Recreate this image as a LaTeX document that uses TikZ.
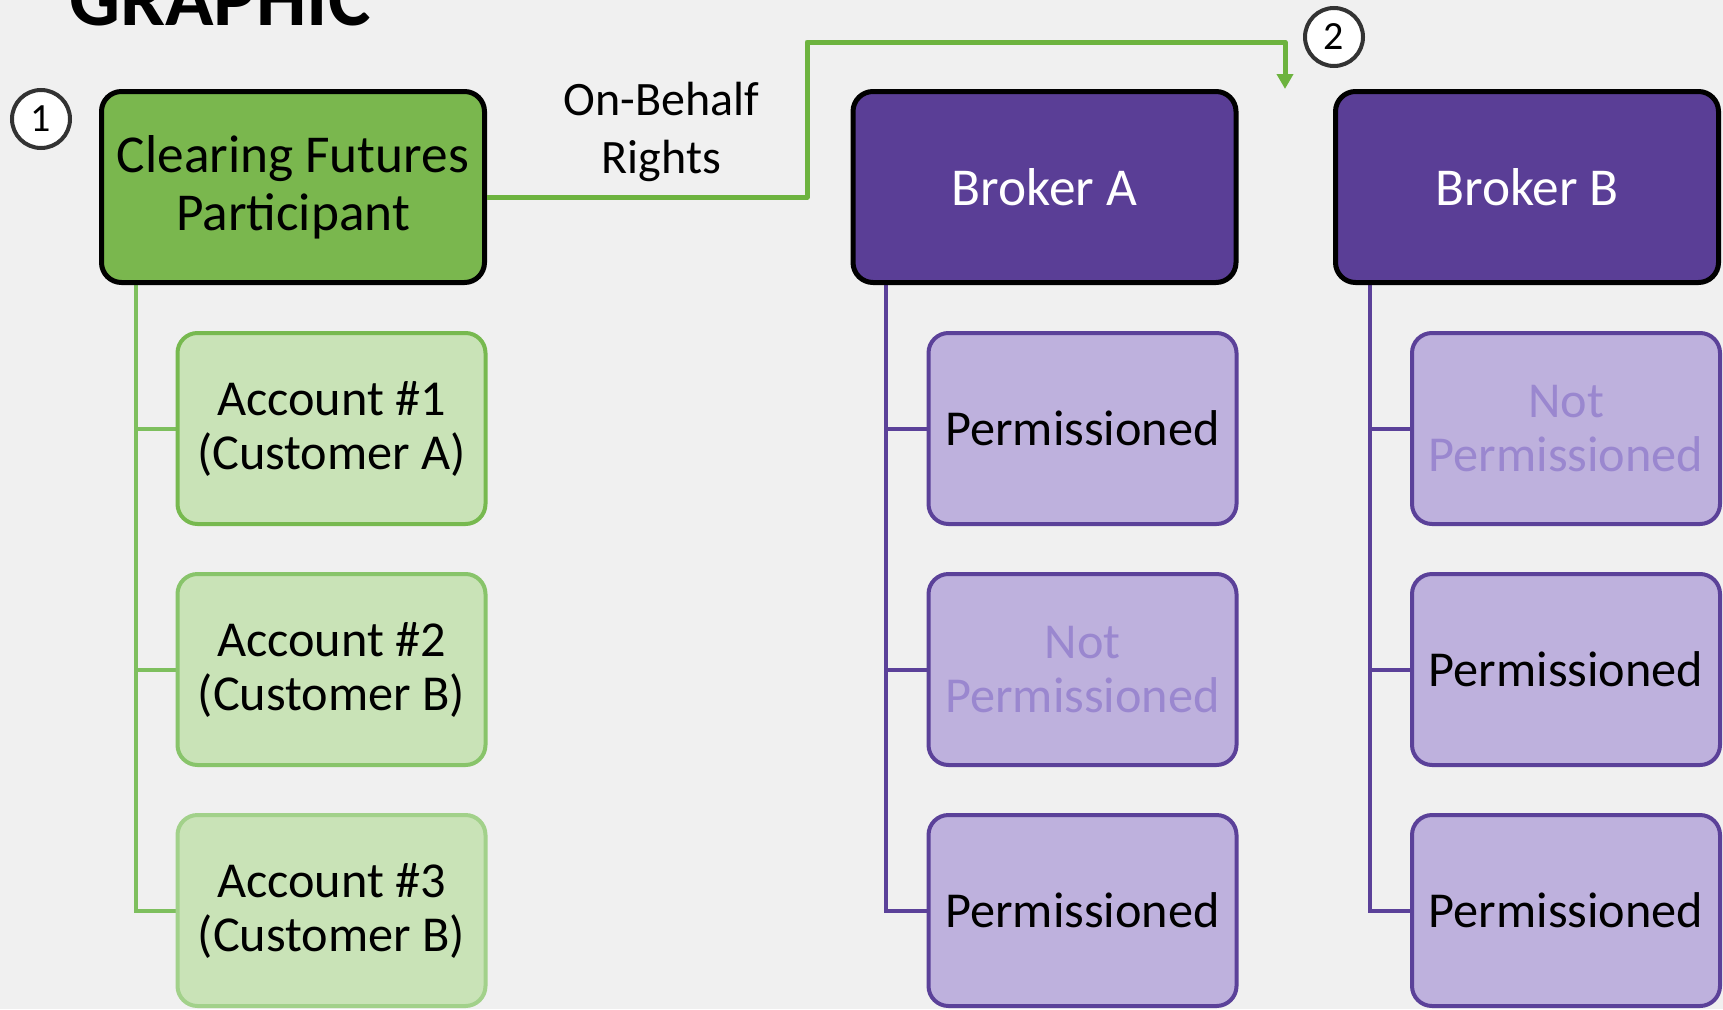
\documentclass[tikz,border=0pt]{standalone}
\usepackage{fontspec}
\setmainfont{Carlito}
\usetikzlibrary{arrows.meta,calc}
\definecolor{bgc}{HTML}{F0F0F0}
\definecolor{gdark}{HTML}{7AB74E}
\definecolor{glight}{HTML}{C9E3B7}
\definecolor{gline}{HTML}{6DB33F}
\definecolor{gconnc}{HTML}{7EBF5E}
\definecolor{gbA}{HTML}{77B94F}
\definecolor{gbB}{HTML}{88C46A}
\definecolor{gbC}{HTML}{A2D18A}
\definecolor{pdark}{HTML}{5A3E96}
\definecolor{plight}{HTML}{BEB1DD}
\definecolor{pborder}{HTML}{5B4199}
\definecolor{npc}{HTML}{9A87CF}
\definecolor{circb}{HTML}{333333}
\pgfdeclarelayer{back}
\pgfdeclarelayer{conn}
\pgfsetlayers{back,conn,main}
\tikzset{
  topbox/.style={draw=black, line width=5pt, rounded corners=20pt, minimum width=383pt,
    minimum height=191pt, inner sep=0pt, align=center, font=\fontsize{53.3}{58}\selectfont},
  cfpbox/.style={topbox, fill=gdark, text=black},
  brokerbox/.style={topbox, fill=pdark, text=white},
  childbox/.style={line width=4pt, rounded corners=20pt, minimum width=308pt,
    minimum height=191pt, inner sep=0pt, align=center, font=\fontsize{50.3}{54}\selectfont},
  accbox/.style={childbox, fill=glight, text=black},
  permbox/.style={childbox, fill=plight, draw=pborder, text=black},
  notpermbox/.style={childbox, fill=plight, draw=pborder, text=npc},
  numcirc/.style={circle, draw=circb, line width=4pt, fill=white, minimum size=58pt,
    inner sep=0pt, font=\fontsize{40}{44}\selectfont},
  gtree/.style={draw=gconnc, line width=4pt},
  ptree/.style={draw=pborder, line width=4pt},
  onbehalf/.style={draw=gline, line width=5pt, line join=round,
    -{Triangle[length=15pt,width=16pt]}},
}
\begin{document}
\begin{tikzpicture}[x=1pt,y=-1pt]
\useasboundingbox (0,0) rectangle (1723,1009);
\begin{pgfonlayer}{back}
\fill[bgc] (0,0) rectangle (1723,1009);
\end{pgfonlayer}

\node[anchor=base west, inner sep=0pt, font=\fontsize{80}{90}\selectfont\bfseries] (title) at (69,25) {GRAPHIC};

\node[cfpbox] (cfp) at (293,187) {Clearing Futures\\Participant};
\node[brokerbox] (bra) at (1044.5,187) {Broker A};
\node[brokerbox] (brb) at (1527,187) {Broker B};

\node[accbox, draw=gbA] (acc1) at (331.5,428.5) {Account \#1\\(Customer A)};
\node[accbox, draw=gbB] (acc2) at (331.5,669.5) {Account \#2\\(Customer B)};
\node[accbox, draw=gbC] (acc3) at (331.5,910.5) {Account \#3\\(Customer B)};

\node[permbox] (a1) at (1082.5,428.5) {Permissioned};
\node[notpermbox] (a2) at (1082.5,669.5) {Not\\Permissioned};
\node[permbox] (a3) at (1082.5,910.5) {Permissioned};

\node[notpermbox] (b1) at (1566,428.5) {Not\\Permissioned};
\node[permbox] (b2) at (1566,669.5) {Permissioned};
\node[permbox] (b3) at (1566,910.5) {Permissioned};

\node[numcirc] (n1) at (41,119) {1};
\node[numcirc] (n2) at (1334,37) {2};

\node[align=center, inner sep=0pt, font=\fontsize{48}{58}\selectfont] (lbl) at (661.5,132) {On-Behalf\\Rights};

\coordinate (tip) at (1285,89);

\begin{pgfonlayer}{conn}
\foreach \c in {acc1,acc2,acc3}
  \draw[gtree] ($(cfp.south west)+(36.5,0)$) |- (\c.west);
\foreach \c in {a1,a2,a3}
  \draw[ptree] ($(bra.south west)+(35.5,0)$) |- (\c.west);
\foreach \c in {b1,b2,b3}
  \draw[ptree] ($(brb.south west)+(36.5,0)$) |- (\c.west);
\end{pgfonlayer}
\draw[onbehalf] ($(cfp.east)+(0,10)$) -| (807,42) -| (tip);
\end{tikzpicture}
\end{document}
